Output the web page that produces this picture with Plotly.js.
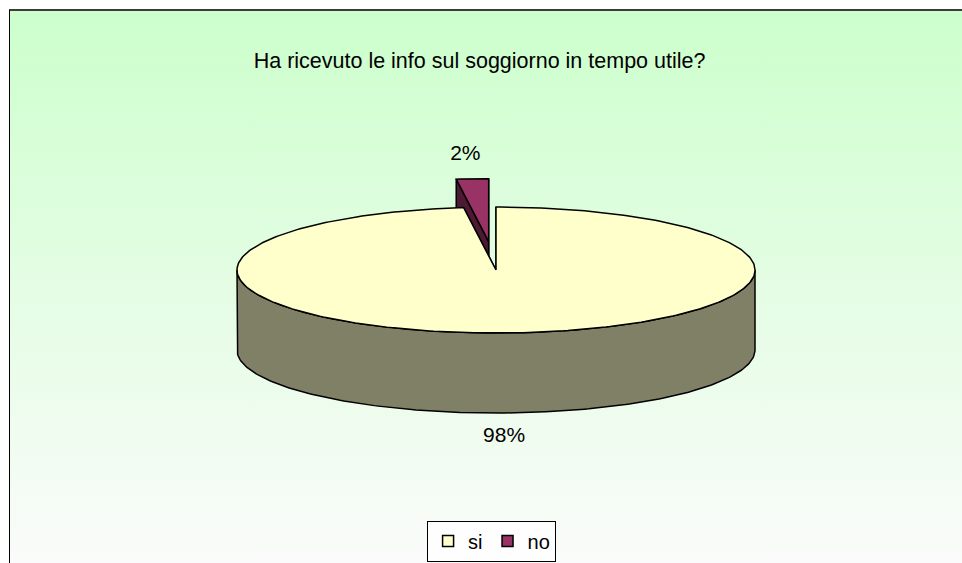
<!DOCTYPE html>
<html>
<head>
<meta charset="utf-8">
<script src="https://cdn.plot.ly/plotly-3.0.1.min.js"></script>
<style>
  html, body { margin: 0; padding: 0; overflow: hidden; background: #ffffff; }
  #frame {
    position: absolute; left: 9px; top: 9px; width: 960px; height: 560px;
    border-top: 2px solid #3c3c3c; border-left: 1px solid #000000;
    background: linear-gradient(to bottom, #CCFFCC 0%, #E2FDE2 45%, #FBFBFB 100%);
  }
  #chart { position: absolute; left: 0; top: 0; width: 962px; height: 563px; }
</style>
</head>
<body>
<div id="frame"></div>
<div id="chart"></div>
<script>
// ---- data ----
const categories = ["si", "no"];
const values = [98, 2];
const topColors = ["#FFFFCC", "#993366"];
const sideColors = ["#808066", "#4D1933"];
const explode = [0, 0.45];

// ---- 3d pie geometry (pixel units, y down) ----
const PIE = { cx: 496, cy: 270, rx: 259, ry: 63, depth: 80 };
const LABEL_PAD = 24;
const LABEL_SPREAD = 0.5;   // how far labels follow the slice's horizontal offset
const FONT = "Liberation Sans, Arial, sans-serif";

function rad(d){ return d * Math.PI / 180; }

function rimPt(deg, off, dz){
  const t = rad(deg);
  return [PIE.cx + off[0] + PIE.rx * Math.sin(t),
          PIE.cy + off[1] - PIE.ry * Math.cos(t) + (dz || 0)];
}

function arc(a0, a1, off, dz){
  const xs = [], ys = [];
  const n = Math.max(2, Math.ceil(Math.abs(a1 - a0)));
  for (let i = 0; i <= n; i++){
    const p = rimPt(a0 + (a1 - a0) * i / n, off, dz);
    xs.push(p[0]); ys.push(p[1]);
  }
  return { xs, ys };
}

function poly(xs, ys, color){
  return {
    type: "scatter", mode: "lines", x: xs, y: ys,
    fill: "toself", fillcolor: color,
    line: { color: "#000000", width: 1.5 },
    hoverinfo: "skip", showlegend: false
  };
}

// build slices
const total = values.reduce((a, b) => a + b, 0);
let acc = 0;
const slices = values.map((v, i) => {
  const a0 = acc / total * 360;
  acc += v;
  const a1 = acc / total * 360;
  const mid = (a0 + a1) / 2;
  const off = [explode[i] * PIE.rx * Math.sin(rad(mid)), -explode[i] * PIE.ry * Math.cos(rad(mid))];
  return { i, a0, a1, mid, off, v };
});

// back slices first
const order = slices.slice().sort((a, b) => Math.cos(rad(b.mid)) - Math.cos(rad(a.mid)));

const traces = [];
order.forEach(s => {
  const c = [PIE.cx + s.off[0], PIE.cy + s.off[1]];
  // cut faces
  if (s.a1 - s.a0 < 360){
    [s.a0, s.a1].forEach(a => {
      const p = rimPt(a, s.off, 0);
      traces.push(poly(
        [c[0], p[0], p[0], c[0], c[0]],
        [c[1], p[1], p[1] + PIE.depth, c[1] + PIE.depth, c[1]],
        sideColors[s.i]));
    });
  }
  // outer wall, front half only
  const lo = Math.max(s.a0, 90), hi = Math.min(s.a1, 270);
  if (lo < hi){
    const t = arc(lo, hi, s.off, 0);
    const b = arc(hi, lo, s.off, PIE.depth);
    traces.push(poly(t.xs.concat(b.xs, [t.xs[0]]), t.ys.concat(b.ys, [t.ys[0]]), sideColors[s.i]));
  }
  // top face
  const t = arc(s.a0, s.a1, s.off, 0);
  traces.push(poly([c[0]].concat(t.xs, [c[0]]), [c[1]].concat(t.ys, [c[1]]), topColors[s.i]));
});

// percentage labels, just outside the rim
slices.forEach(s => {
  const back = Math.cos(rad(s.mid)) >= 0;
  const p = rimPt(s.mid, s.off, back ? 0 : PIE.depth);
  const lx = PIE.cx + s.off[0] + LABEL_SPREAD * (p[0] - PIE.cx - s.off[0]);
  traces.push({
    type: "scatter", mode: "text",
    x: [lx], y: [p[1] + (back ? -LABEL_PAD : LABEL_PAD)],
    text: [Math.round(s.v / total * 100) + "%"],
    textposition: back ? "middle left" : "middle center",
    textfont: { family: FONT, size: 21, color: "#000000" },
    hoverinfo: "skip", showlegend: false
  });
});

// legend entries
categories.forEach((name, i) => {
  traces.push({
    type: "scatter", mode: "markers", x: [null], y: [null], name: name,
    marker: { symbol: "square", size: 11, color: topColors[i], line: { color: "#000000", width: 1.5 } },
    hoverinfo: "skip", showlegend: true
  });
});

const layout = {
  width: 962, height: 563,
  margin: { l: 0, r: 0, t: 0, b: 0 },
  paper_bgcolor: "rgba(0,0,0,0)",
  plot_bgcolor: "rgba(0,0,0,0)",
  xaxis: { range: [0, 962], visible: false, fixedrange: true },
  yaxis: { range: [563, 0], visible: false, fixedrange: true },
  title: {
    text: "Ha ricevuto le info sul soggiorno in tempo utile?",
    font: { family: FONT, size: 21.5, color: "#000000" },
    x: 0.4985, xanchor: "center", y: 0.893, yanchor: "middle"
  },
  showlegend: true,
  legend: {
    orientation: "h", x: 0.511, xanchor: "center", y: 0.039, yanchor: "middle",
    bgcolor: "#FDFEFD", bordercolor: "#000000", borderwidth: 1,
    font: { family: FONT, size: 20, color: "#000000" },
    itemwidth: 30, traceorder: "normal"
  }
};

Plotly.newPlot("chart", traces, layout, { displayModeBar: false, staticPlot: true });
</script>
</body>
</html>
